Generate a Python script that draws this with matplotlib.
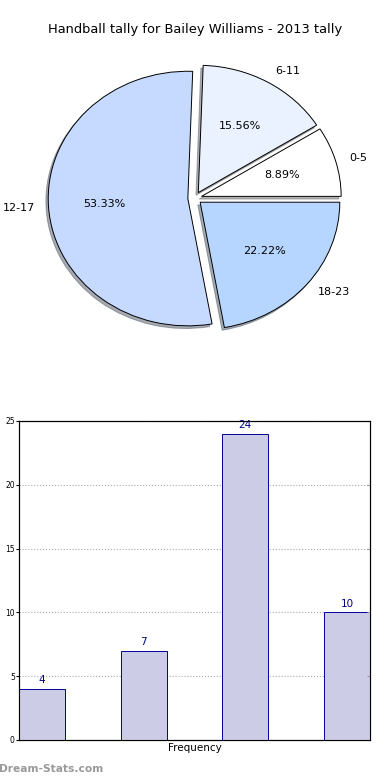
import numpy as np
import matplotlib
matplotlib.use("Agg")
import matplotlib.pyplot as plt

# data
categories = ["0-5", "6-11", "12-17", "18-23"]
counts = [4, 7, 24, 10]
pie_colors = ["#ffffff", "#eaf1ff", "#c6d9ff", "#b6d6ff"]

fig = plt.figure(figsize=(3.9, 7.8), dpi=100)

# - - - pie - - -
ax1 = fig.add_axes([0.052, 0.542, 0.895, 0.408])
wedges, texts, autotexts = ax1.pie(counts, labels=categories, colors=pie_colors,
                                   explode=[0.05] * len(counts), startangle=0,
                                   autopct="%.2f%%",
                                   shadow={"ox": -0.012, "oy": -0.015, "shade": 0.6},
                                   wedgeprops=dict(edgecolor="black", linewidth=0.7),
                                   textprops=dict(fontsize=8))
ax1.set_aspect("auto")
ax1.set_xlim(-1.25, 1.25)
ax1.set_ylim(-1.25, 1.25)
fig.text(0.5, 1 - 30 / 780, "Handball tally for Bailey Williams - 2013 tally",
         ha="center", va="center", fontsize=9.4)

# - - - bars - - -
ax2 = fig.add_axes([0.0487, 0.0513, 0.9, 0.409])
x = np.arange(len(counts))
bars = ax2.bar(x, counts, width=0.45, align="edge", color="#cccce6",
               edgecolor="#000099", linewidth=0.7, zorder=3)
for b, v in zip(bars, counts):
    ax2.text(b.get_x() + b.get_width() / 2, v + 0.3, str(v), ha="center", va="bottom",
             fontsize=7.5, color="#000080")

ax2.set_xlim(0, 3.45)
ax2.set_ylim(0, 25)
ax2.set_yticks([0, 5, 10, 15, 20, 25])
ax2.set_xticks([])
ax2.tick_params(axis="y", which="both", labelsize=5.5, length=2, pad=1)
ax2.yaxis.grid(True, linestyle=":", color="#aaaaaa", linewidth=0.8)
ax2.set_xlabel("Frequency", fontsize=7.5, labelpad=2)

# small inward ticks on the right spine
axr = ax2.twinx()
axr.set_ylim(ax2.get_ylim())
axr.set_yticks([0, 5, 10, 15, 20, 25])
axr.set_yticklabels([])
axr.tick_params(axis="y", direction="in", length=2, color="#999999")

fig.text(-0.003, 0.008, "Dream-Stats.com", fontsize=7.7, color="#999999",
         fontweight="bold", ha="left", va="bottom")

fig.savefig("out.png", dpi=100)
